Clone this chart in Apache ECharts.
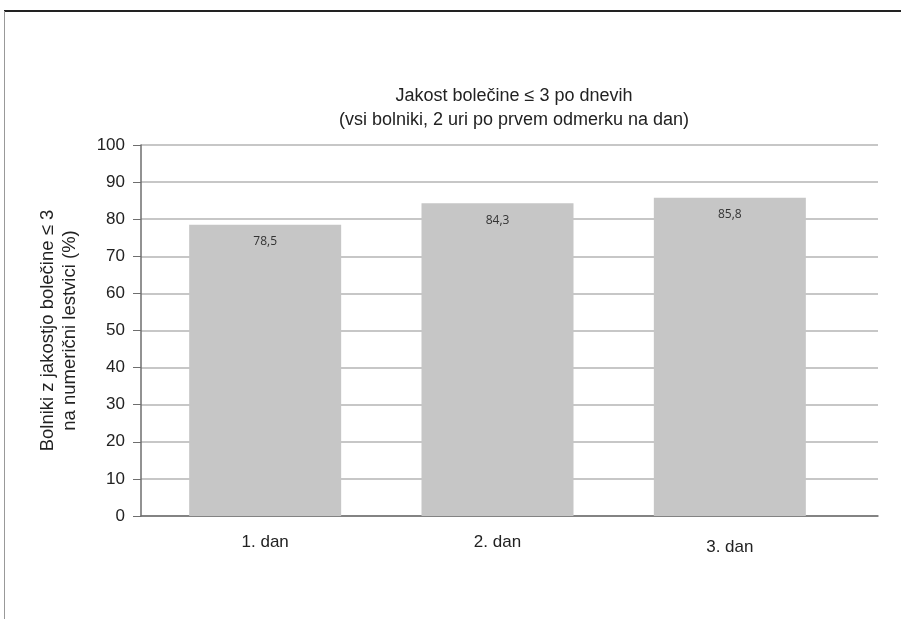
<!DOCTYPE html>
<html>
<head>
<meta charset="utf-8">
<script src="https://cdn.jsdelivr.net/npm/echarts@6/dist/echarts.min.js"></script>
<style>
html,body{margin:0;padding:0;background:#fff;}
#c{width:901px;height:619px;}
</style>
</head>
<body>
<div id="c"></div>
<script>
var categories = ['1. dan', '2. dan', '3. dan'];
var values = [78.5, 84.3, 85.8];
var yTicks = [0, 10, 20, 30, 40, 50, 60, 70, 80, 90, 100];
var titleLines = ['Jakost bolečine ≤ 3 po dnevih', '(vsi bolniki, 2 uri po prvem odmerku na dan)'];
var yNameLines = ['Bolniki z jakostjo bolečine ≤ 3', 'na numerični lestvici (%)'];

var FONT = "'Liberation Sans', Arial, sans-serif";
var chart = echarts.init(document.getElementById('c'), null, {renderer: 'canvas'});

var option = {
  backgroundColor: '#fff',
  animation: false,
  title: {
    text: titleLines.join('\n'),
    left: 509,
    top: 79,
    textAlign: 'center',
    textStyle: {fontFamily: FONT, fontSize: 18, fontWeight: 'normal', color: '#222', lineHeight: 24}
  },
  graphic: [
    {type: 'line', shape: {x1: 4, y1: 11, x2: 901, y2: 11}, style: {stroke: '#222', lineWidth: 2}},
    {type: 'line', shape: {x1: 4.5, y1: 11, x2: 4.5, y2: 619}, style: {stroke: '#999', lineWidth: 1}}
  ],
  grid: [
    {left: 141, right: 23, top: 145, bottom: 103},
    {left: 149, right: 55, top: 145, bottom: 103}
  ],
  xAxis: [
    {
      type: 'value', gridIndex: 0, min: 0, max: 1,
      axisLine: {show: true, lineStyle: {color: '#6e6e6e', width: 1.5}},
      axisTick: {show: false}, axisLabel: {show: false}, splitLine: {show: false}
    },
    {
      type: 'category', gridIndex: 1, data: categories,
      axisLine: {show: false}, axisTick: {show: false},
      axisLabel: {
        margin: 18, fontFamily: FONT, fontSize: 17, color: '#222',
        formatter: function (v, i) { return i === 2 ? '{low|' + v + '}' : v; },
        rich: {low: {fontFamily: FONT, fontSize: 17, color: '#222', padding: [5, 0, 0, 0]}}
      }
    }
  ],
  yAxis: [
    {
      type: 'value', gridIndex: 0, min: 0, max: 100, interval: 10,
      name: yNameLines.join('\n'),
      nameLocation: 'middle', nameGap: 60, nameRotate: 90,
      nameTextStyle: {fontFamily: FONT, fontSize: 18.5, color: '#222', lineHeight: 22},
      axisLine: {show: true, lineStyle: {color: '#6e6e6e', width: 1.5}},
      axisTick: {show: true, length: 8, lineStyle: {color: '#6e6e6e'}},
      axisLabel: {margin: 16, fontFamily: FONT, fontSize: 17, color: '#222',
        formatter: function (v) { return yTicks.indexOf(v) >= 0 ? String(v) : ''; }},
      splitLine: {show: true, lineStyle: {color: '#b4b4b4', width: 1.5}}
    },
    {
      type: 'value', gridIndex: 1, min: 0, max: 100, interval: 10,
      axisLine: {show: false}, axisTick: {show: false}, axisLabel: {show: false}, splitLine: {show: false}
    }
  ],
  series: [{
    type: 'bar', xAxisIndex: 1, yAxisIndex: 1,
    data: values, barWidth: 152,
    itemStyle: {color: '#c6c6c6'},
    label: {
      show: true, position: 'insideTop', distance: 11,
      fontFamily: "'Open Sans', sans-serif", fontSize: 12, color: '#333',
      formatter: function (p) { return String(p.value).replace('.', ','); }
    }
  }]
};
chart.setOption(option);
</script>
</body>
</html>
